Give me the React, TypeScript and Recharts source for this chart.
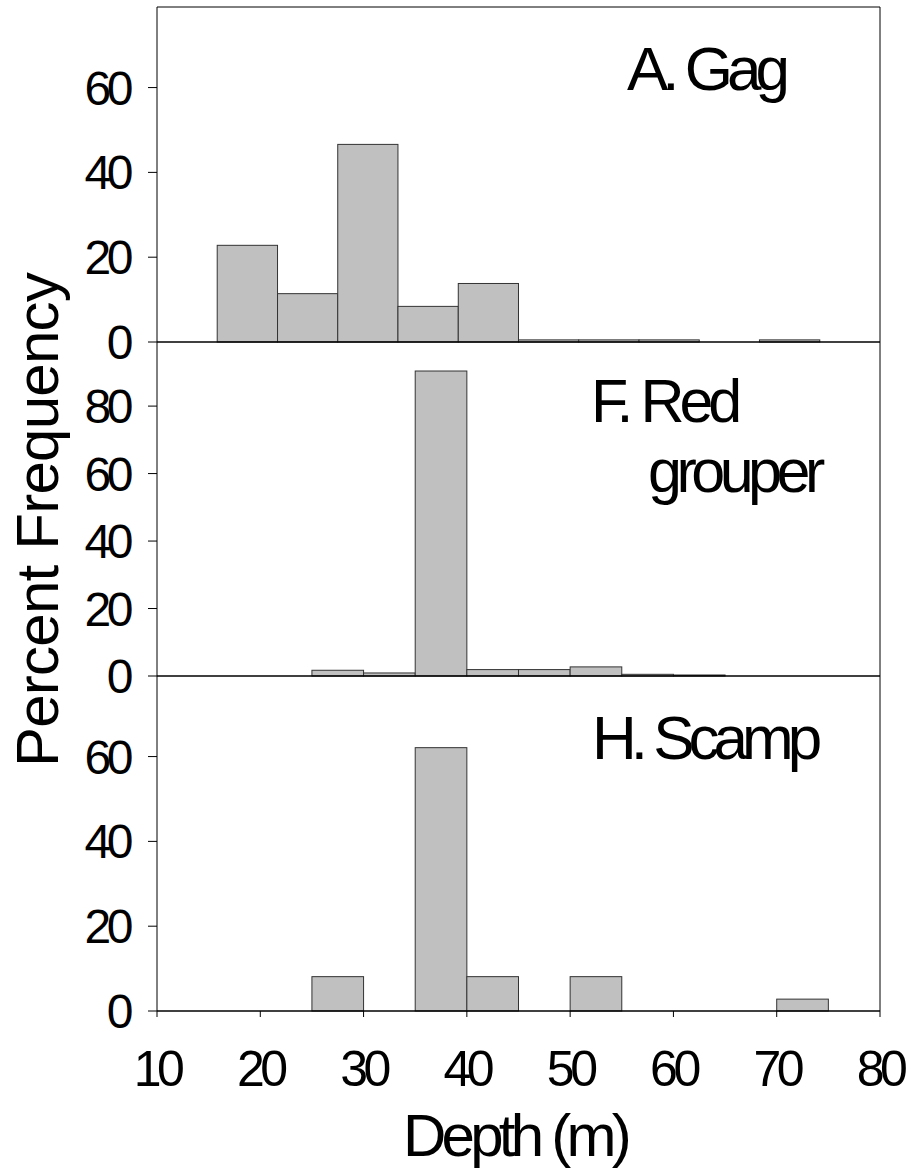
import React from 'react';
import { BarChart, Bar, XAxis, YAxis, ReferenceLine } from 'recharts';

// depth axis
const depthTicks = [10, 20, 30, 40, 50, 60, 70, 80];
const gagTicks = [10, 21.67, 33.33, 45, 56.67, 68.33, 80];
const redTicks = [10, 20, 40, 60, 80];
const pctTicksShort = [0, 20, 40, 60];
const pctTicksTall = [0, 20, 40, 60, 80];

// A. Gag (bins of ~5.83 m)
const gagBinStart = [15.83, 21.67, 27.5, 33.33, 39.17, 45, 50.83, 56.67, 62.5, 68.33];
const gagBinEnd = [21.67, 27.5, 33.33, 39.17, 45, 50.83, 56.67, 62.5, 68.33, 74.17];
const gagPct = [22.8, 11.4, 46.6, 8.4, 13.8, 0.5, 0.5, 0.5, 0, 0.5];

// F. Red grouper (5 m bins)
const redBinStart = [25, 30, 35, 40, 45, 50, 55, 60];
const redBinEnd = [30, 35, 40, 45, 50, 55, 60, 65];
const redPct = [1.7, 0.9, 90.4, 1.9, 1.9, 2.7, 0.5, 0.3];

// H. Scamp (5 m bins)
const scampBinStart = [25, 30, 35, 40, 45, 50, 55, 60, 65, 70];
const scampBinEnd = [30, 35, 40, 45, 50, 55, 60, 65, 70, 75];
const scampPct = [8.1, 0, 62.1, 8.1, 0, 8.1, 0, 0, 0, 2.8];

const W = 911;
const PLOT_LEFT = 157;
const PLOT_RIGHT = 880;
const X_MIN = 10;
const X_MAX = 80;
const PX_PER_UNIT = (PLOT_RIGHT - PLOT_LEFT) / (X_MAX - X_MIN);

const FONT = '"Liberation Sans", Arial, Helvetica, sans-serif';
const BAR_FILL = '#c0c0c0';
const BAR_STROKE = '#333';

const toBins = (starts: number[], ends: number[], pct: number[]) =>
  starts.map((s, i) => ({ start: s, end: ends[i], mid: (s + ends[i]) / 2, pct: pct[i] }));

function HistBar(props: any) {
  const { x, y, width, height, payload } = props;
  if (!(height > 0)) return <g />;
  const w = (payload.end - payload.start) * PX_PER_UNIT;
  const cx = x + width / 2;
  return (
    <rect x={cx - w / 2} y={y} width={w} height={height} fill={BAR_FILL} stroke={BAR_STROKE} strokeWidth={1} />
  );
}

function YTick(props: any) {
  const { x, y, payload } = props;
  return (
    <text x={x} y={y} dy="0.355em" textAnchor="end" fill="#000" fontFamily={FONT} fontSize={48} letterSpacing={-4.5}>
      {payload.value}
    </text>
  );
}

function XTick(props: any) {
  const { x, y, payload } = props;
  return (
    <text x={x} y={y} dy="0.71em" textAnchor="middle" fill="#000" fontFamily={FONT} fontSize={50} letterSpacing={-4.5}>
      {payload.value}
    </text>
  );
}

interface PanelProps {
  top: number;
  height: number;
  marginTop: number;
  xAxisHeight: number;
  data: Array<{ start: number; end: number; mid: number; pct: number }>;
  xTicks: number[];
  yTicks: number[];
  yMax: number;
  labels?: boolean;
  topBorder?: boolean;
}

function Panel({ top, height, marginTop, xAxisHeight, data, xTicks, yTicks, yMax, labels, topBorder }: PanelProps) {
  const barSize = (data[0].end - data[0].start) * PX_PER_UNIT - 0.01;
  return (
    <div style={{ position: 'absolute', left: 0, top, width: W, height }}>
      <BarChart width={W} height={height} data={data} margin={{ top: marginTop, right: W - PLOT_RIGHT, bottom: 0, left: 0 }}>
        <Bar dataKey="pct" barSize={barSize} shape={HistBar} isAnimationActive={false} />
        {topBorder && <ReferenceLine y={yMax} stroke="#000" strokeWidth={1} />}
        <ReferenceLine x={X_MAX} stroke="#000" strokeWidth={1} />
        <XAxis
          dataKey="mid"
          type="number"
          domain={[X_MIN, X_MAX]}
          ticks={xTicks}
          interval={0}
          height={xAxisHeight}
          tickSize={6}
          tickMargin={33}
          tick={labels ? XTick : false}
          axisLine={{ stroke: '#000', strokeWidth: 1.5 }}
          tickLine={{ stroke: '#000', strokeWidth: 1 }}
        />
        <YAxis
          type="number"
          domain={[0, yMax]}
          ticks={yTicks}
          interval={0}
          width={PLOT_LEFT}
          tickSize={9}
          tickMargin={19}
          tick={YTick}
          axisLine={{ stroke: '#000', strokeWidth: 1 }}
          tickLine={{ stroke: '#000', strokeWidth: 1 }}
        />
      </BarChart>
    </div>
  );
}

export default function App() {
  const gag = toBins(gagBinStart, gagBinEnd, gagPct);
  const red = toBins(redBinStart, redBinEnd, redPct);
  const scamp = toBins(scampBinStart, scampBinEnd, scampPct);

  return (
    <div style={{ position: 'absolute', left: 0, top: 0, width: W, height: 1170, background: '#fff' }}>
      <Panel top={0} height={400} marginTop={7} xAxisHeight={58} data={gag} xTicks={gagTicks} yTicks={pctTicksShort} yMax={79} topBorder />
      <Panel top={342} height={400} marginTop={0} xAxisHeight={66} data={red} xTicks={redTicks} yTicks={pctTicksTall} yMax={99} />
      <Panel top={676} height={494} marginTop={0} xAxisHeight={159} data={scamp} xTicks={depthTicks} yTicks={pctTicksShort} yMax={79} labels />
      <svg width={W} height={1170} style={{ position: 'absolute', left: 0, top: 0, pointerEvents: 'none' }}>
        <g fontFamily={FONT} fill="#000">
          <text x={627} y={90} fontSize={62} letterSpacing={-6}>A. Gag</text>
          <text x={591} y={422} fontSize={61} letterSpacing={-5}>F. Red</text>
          <text x={648} y={492} fontSize={61} letterSpacing={-5.5}>grouper</text>
          <text x={592} y={759} fontSize={62} letterSpacing={-6}>H. Scamp</text>
          <text x={515} y={1156} fontSize={60} letterSpacing={-4.75} textAnchor="middle">Depth (m)</text>
          <text x={58} y={520} fontSize={60} letterSpacing={-0.75} textAnchor="middle" transform="rotate(-90, 58, 520)">
            Percent Frequency
          </text>
        </g>
      </svg>
    </div>
  );
}
